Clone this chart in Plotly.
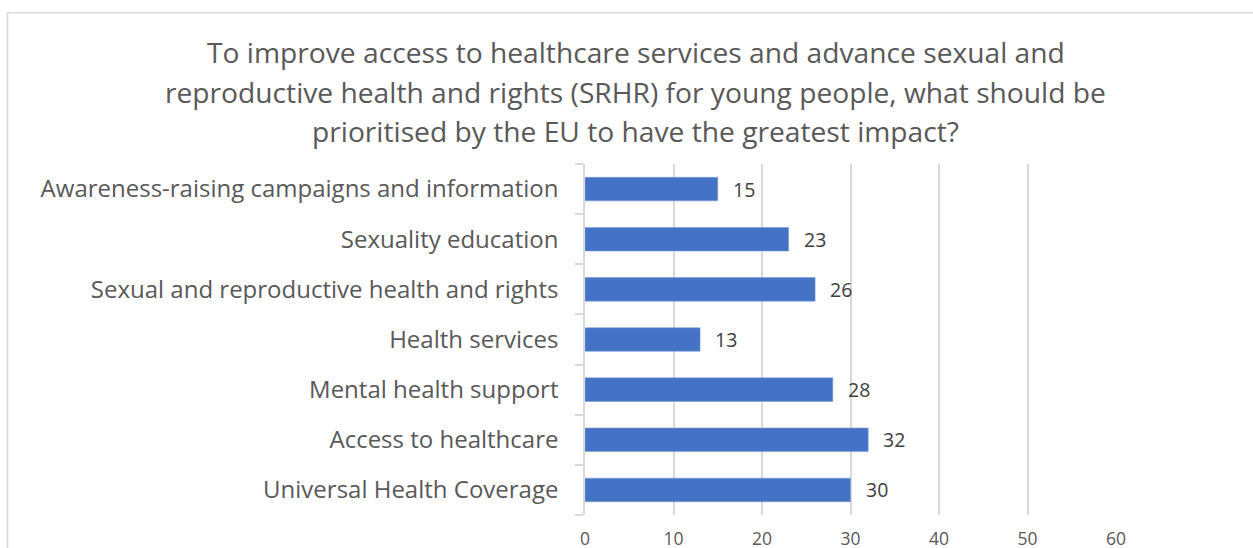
import plotly.graph_objects as go

# Survey responses: priorities for improving access to healthcare and SRHR
categories = [
    "Awareness-raising campaigns and information",
    "Sexuality education",
    "Sexual and reproductive health and rights",
    "Health services",
    "Mental health support",
    "Access to healthcare",
    "Universal Health Coverage",
]
responses = [15, 23, 26, 13, 28, 32, 30]
x_ticks = [0, 10, 20, 30, 40, 50, 60]

title_lines = [
    "To improve access to healthcare services and advance sexual and",
    "reproductive health and rights (SRHR) for young people, what should be",
    "prioritised by the EU to have the greatest impact?",
]

W, H = 1253, 548
ML, MR, MT, MB = 585, 137, 164, 33
PW, PH = W - ML - MR, H - MT - MB


def px_x(px):
    """Figure pixel column -> paper x (plot-area relative)."""
    return (px - ML) / PW


def px_y(py):
    """Figure pixel row -> paper y (plot-area relative)."""
    return (H - MB - py) / PH


FONT = "'Open Sans', Lato, sans-serif"
BAR = "#4472C4"
GRID = "#D9D9D9"
TEXT = "#595959"

fig = go.Figure()
fig.add_trace(go.Bar(
    x=responses,
    y=categories,
    orientation="h",
    marker=dict(color=BAR, line=dict(color="#7FA0D8", width=0.6)),
    width=0.47,
    hoverinfo="x+y",
))

# value labels to the right of each bar
annotations = []
for cat, val in zip(categories, responses):
    annotations.append(dict(
        x=val, y=cat, xref="x", yref="y",
        text=str(val), showarrow=False,
        xanchor="left", yanchor="middle", xshift=13,
        font=dict(family=FONT, size=19.5, color="#404040"),
    ))

# title, one annotation per line for Excel-like line spacing
line_y = [52, 92, 131]
for txt, py in zip(title_lines, line_y):
    annotations.append(dict(
        x=px_x(635.5), y=px_y(py), xref="paper", yref="paper",
        text=txt, showarrow=False, xanchor="center", yanchor="middle",
        font=dict(family=FONT, size=28.2, color=TEXT),
    ))

# chart-area border (extends past the right and bottom edges)
fig.add_shape(
    type="rect", xref="paper", yref="paper",
    x0=px_x(7.5), x1=px_x(1265),
    y0=px_y(565), y1=px_y(12.7),
    line=dict(color=GRID, width=1.5), fillcolor="rgba(0,0,0,0)", layer="below",
)

fig.update_layout(
    width=W, height=H,
    margin=dict(l=ML, r=MR, t=MT, b=MB, pad=0, autoexpand=False),
    paper_bgcolor="white", plot_bgcolor="white",
    showlegend=False,
    annotations=annotations,
    bargap=0.53,
    xaxis=dict(
        range=[0, 60],
        tickvals=x_ticks,
        ticktext=[str(v) for v in x_ticks],
        showgrid=True, gridcolor=GRID, gridwidth=2,
        zeroline=False, showline=False, ticks="",
        tickfont=dict(family=FONT, size=17.5, color=TEXT),
        ticklabelstandoff=11,
        automargin=False,
        fixedrange=True,
    ),
    yaxis=dict(
        categoryorder="array",
        categoryarray=categories[::-1],
        autorange=True,
        showgrid=False, zeroline=False,
        showline=True, linecolor=GRID, linewidth=1.5,
        ticks="outside", tickson="boundaries", ticklen=8, tickcolor=GRID, tickwidth=1.5,
        tickfont=dict(family=FONT, size=24, color=TEXT),
        ticklabelstandoff=20,
        automargin=False,
        fixedrange=True,
    ),
)

fig.write_html("out.html")
